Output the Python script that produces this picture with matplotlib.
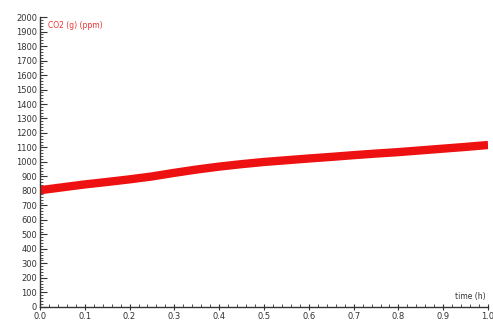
import numpy as np
import matplotlib.pyplot as plt
from matplotlib.ticker import MultipleLocator

# CO2 readings, every 0.05 h
time_h = [0.0, 0.05, 0.1, 0.15, 0.2, 0.25, 0.3, 0.35, 0.4, 0.45, 0.5,
          0.55, 0.6, 0.65, 0.7, 0.75, 0.8, 0.85, 0.9, 0.95, 1.0]
co2_ppm = [805, 825, 845, 862, 880, 900, 925, 948, 968, 985, 1000,
           1012, 1024, 1035, 1047, 1058, 1068, 1080, 1092, 1104, 1117]

fig = plt.figure(figsize=(4.93, 3.22), dpi=100)
ax = fig.add_axes([0.081, 0.047, 0.909, 0.9])

ax.plot(time_h, co2_ppm, color="#ee1111", lw=6, solid_capstyle="butt")

ax.set_xlim(0, 1.0)
ax.set_ylim(0, 2000)
ax.xaxis.set_major_locator(MultipleLocator(0.1))
ax.xaxis.set_minor_locator(MultipleLocator(0.02))
ax.yaxis.set_major_locator(MultipleLocator(100))
ax.yaxis.set_minor_locator(MultipleLocator(20))
ax.xaxis.set_major_formatter(lambda v, p: f"{v:.1f}")
ax.yaxis.set_major_formatter(lambda v, p: f"{v:.0f}")

for s in ["top", "right"]:
    ax.spines[s].set_visible(False)
for s in ["left", "bottom"]:
    ax.spines[s].set_color("#333333")
    ax.spines[s].set_linewidth(1.0)

ax.tick_params(axis="x", which="major", direction="inout", length=5, labelsize=6, pad=1, colors="#333333")
ax.tick_params(axis="x", which="minor", direction="in", length=2.5, colors="#333333")
ax.tick_params(axis="y", which="major", direction="in", length=5, labelsize=6, pad=2, colors="#333333")
ax.tick_params(axis="y", which="minor", direction="in", length=2.5, colors="#333333")

ax.text(0.018, 0.985, "CO2 (g) (ppm)", transform=ax.transAxes, color="#ee3333",
        fontsize=5.5, va="top", ha="left")
ax.text(0.995, 0.02, "time (h)", transform=ax.transAxes, color="#333333",
        fontsize=5.5, va="bottom", ha="right")

fig.savefig("out.png", dpi=100)
plt.close(fig)
